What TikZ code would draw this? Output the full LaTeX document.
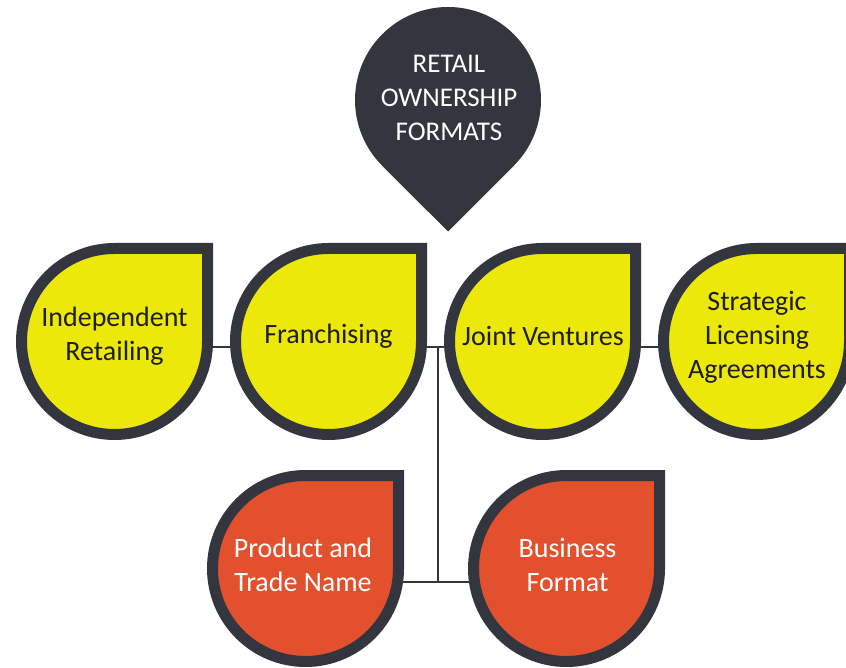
\documentclass[tikz,border=0pt]{standalone}
\usepackage{fontspec}
\setmainfont{Carlito}
\definecolor{pindark}{RGB}{51,54,63}
\definecolor{dropyellow}{RGB}{236,232,10}
\definecolor{dropred}{RGB}{226,80,46}
\definecolor{textdark}{RGB}{30,30,30}
\tikzset{
  anchorcircle/.style={circle, minimum size=186pt, inner sep=0pt, outer sep=0pt},
  dropline/.style={draw=pindark, line width=11pt, line join=miter},
  yellowdrop/.style={dropline, fill=dropyellow},
  reddrop/.style={dropline, fill=dropred},
  conn/.style={draw=pindark, line width=2pt},
  ytext/.style={text=textdark, align=center, font=\fontsize{28}{34}\selectfont, inner sep=0pt},
  rtext/.style={text=white, align=center, font=\fontsize{28}{34}\selectfont, inner sep=0pt},
  ttext/.style={text=white, align=center, font=\fontsize{27}{34}\selectfont, inner sep=0pt},
}
\begin{document}
\begin{tikzpicture}[x=1pt,y=1pt]
\useasboundingbox (0,0) rectangle (846,-668);
% anchor circles (invisible)
\node[anchorcircle] (top) at (448,-100) {};
\node[anchorcircle] (ir) at (114.5,-341.5) {};
\node[anchorcircle] (fr) at (328.5,-341.5) {};
\node[anchorcircle] (jv) at (542.5,-341.5) {};
\node[anchorcircle] (sl) at (756.5,-341.5) {};
\node[anchorcircle] (pt) at (305.5,-568.5) {};
\node[anchorcircle] (bf) at (566.5,-568.5) {};
\coordinate (hub) at (437.5,-347);
\coordinate (hubb) at (437.5,-581.7);
% connectors
\draw[conn] ([yshift=-5.5pt]ir.east) -- ([yshift=-5.5pt]fr.west);
\draw[conn] ([yshift=-5.5pt]fr.east) -- ([yshift=-5.5pt]jv.west);
\draw[conn] ([yshift=-5.5pt]jv.east) -- ([yshift=-5.5pt]sl.west);
\draw[conn] (hub) -- (hubb);
\draw[conn] ([yshift=-13.2pt]pt.east) -- ([yshift=-13.2pt]bf.west);
% top pin
\fill[pindark] (top.south east) arc[start angle=-45, end angle=225, radius=93] -- ([yshift=-131.5pt]top.center) -- cycle;
% drops
\foreach \n in {ir,fr,jv,sl}{
  \path[yellowdrop] (\n.east) arc[start angle=0, end angle=-270, radius=93] -- (\n.north -| \n.east) -- cycle;
}
\foreach \n in {pt,bf}{
  \path[reddrop] (\n.east) arc[start angle=0, end angle=-270, radius=93] -- (\n.north -| \n.east) -- cycle;
}
% texts
\node[ttext] (topt) at (449,-98) {RETAIL\\OWNERSHIP\\FORMATS};
\node[ytext] (irt) at (114.5,-336) {Independent\\Retailing};
\node[ytext] (frt) at (328.5,-336) {Franchising};
\node[ytext] (jvt) at (543,-336) {Joint Ventures};
\node[ytext] (slt) at (757,-337) {Strategic\\Licensing\\Agreements};
\node[rtext] (ptt) at (303,-565) {Product and\\Trade Name};
\node[rtext] (bft) at (567.5,-565) {Business\\Format};
\end{tikzpicture}
\end{document}
